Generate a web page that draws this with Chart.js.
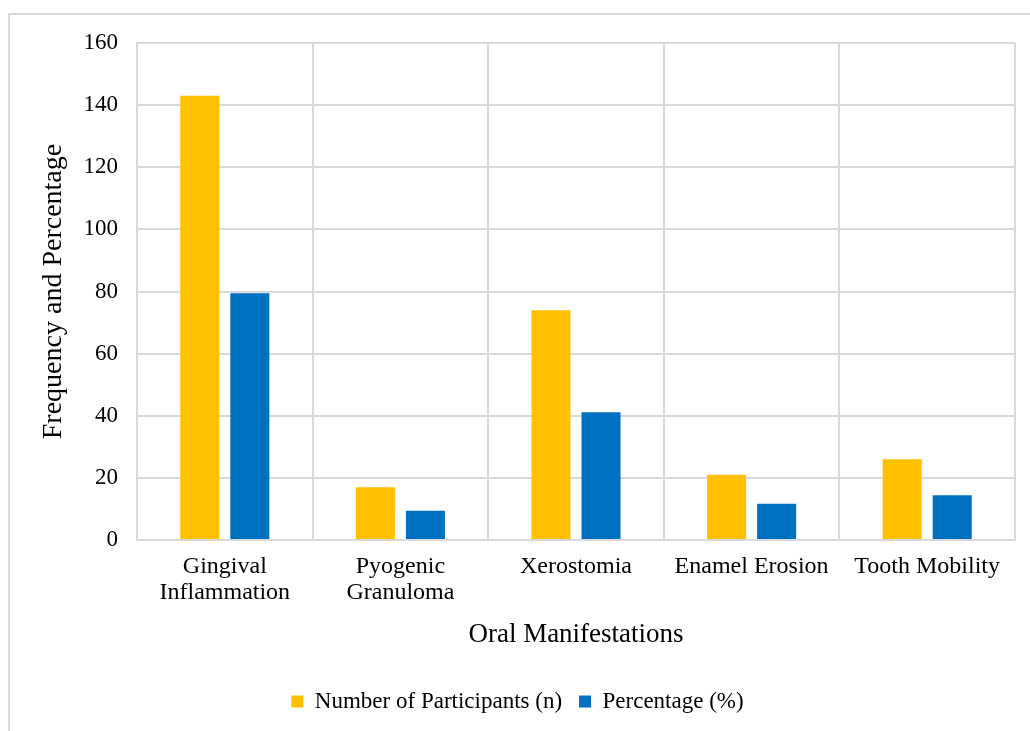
<!DOCTYPE html>
<html>
<head>
<meta charset="utf-8">
<script src="https://cdn.jsdelivr.net/npm/chart.js@4.4.1/dist/chart.umd.min.js"></script>
<style>
    html, body { margin: 0; padding: 0; background: #ffffff; overflow: hidden; }
    #frame {
        position: absolute; left: 8px; top: 13px;
        width: 1040px; height: 740px;
        border: 2px solid #d9d9d9;
        box-sizing: border-box;
    }
    #wrap { position: absolute; left: 0; top: 0; width: 1030px; height: 731px; }
</style>
</head>
<body>
<div id="frame"></div>
<div id="wrap"><canvas id="chart"></canvas></div>
<script>
// Oral manifestations among participants (n and % of 180)
const categories = [
    ['Gingival', 'Inflammation'],
    ['Pyogenic', 'Granuloma'],
    'Xerostomia',
    'Enamel Erosion',
    'Tooth Mobility',
];
const participants = [143, 17, 74, 21, 26];
const percentages = [79.4, 9.4, 41.1, 11.7, 14.4];
const yTicks = [0, 20, 40, 60, 80, 100, 120, 140, 160];

const serif = '"Liberation Serif", "Times New Roman", serif';
const gridColor = '#d9d9d9';
const ink = '#000000';

new Chart(document.getElementById('chart'), {
    type: 'bar',
    data: {
        labels: categories,
        datasets: [
            {
                label: 'Number of Participants (n)',
                data: participants,
                backgroundColor: '#ffc000',
                categoryPercentage: 0.57,
                barPercentage: 0.78,
            },
            {
                label: 'Percentage (%)',
                data: percentages,
                backgroundColor: '#0070c0',
                categoryPercentage: 0.57,
                barPercentage: 0.78,
            },
        ],
    },
    options: {
        responsive: true,
        maintainAspectRatio: false,
        animation: false,
        layout: { padding: { left: 20, right: 15, top: 43, bottom: 8 } },
        scales: {
            x: {
                grid: { color: gridColor, lineWidth: 2, drawTicks: false },
                border: { color: gridColor, width: 2 },
                ticks: {
                    color: ink,
                    font: { family: serif, size: 24, lineHeight: 1.08 },
                    padding: 14,
                    maxRotation: 0,
                    autoSkip: false,
                },
                title: {
                    display: true,
                    text: 'Oral Manifestations',
                    color: ink,
                    font: { family: serif, size: 27 },
                    padding: { top: 0, bottom: 22 },
                },
                afterFit: (scale) => { scale.height = 133; },
            },
            y: {
                min: 0,
                max: 160,
                afterBuildTicks: (scale) => {
                    scale.ticks = yTicks.map((v) => ({ value: v }));
                },
                grid: { color: gridColor, lineWidth: 2, drawTicks: false },
                border: { color: gridColor, width: 2 },
                ticks: {
                    color: ink,
                    font: { family: serif, size: 23 },
                    padding: 19,
                },
                title: {
                    display: true,
                    text: 'Frequency and Percentage',
                    color: ink,
                    font: { family: serif, size: 28 },
                    padding: { top: 17, bottom: 0 },
                },
                afterFit: (scale) => { scale.width = 117; },
            },
        },
        plugins: {
            legend: {
                position: 'bottom',
                labels: {
                    color: ink,
                    font: { family: serif, size: 23 },
                    boxWidth: 12,
                    boxHeight: 12,
                    padding: 17,
                },
            },
            tooltip: { enabled: false },
        },
    },
});
</script>
</body>
</html>
